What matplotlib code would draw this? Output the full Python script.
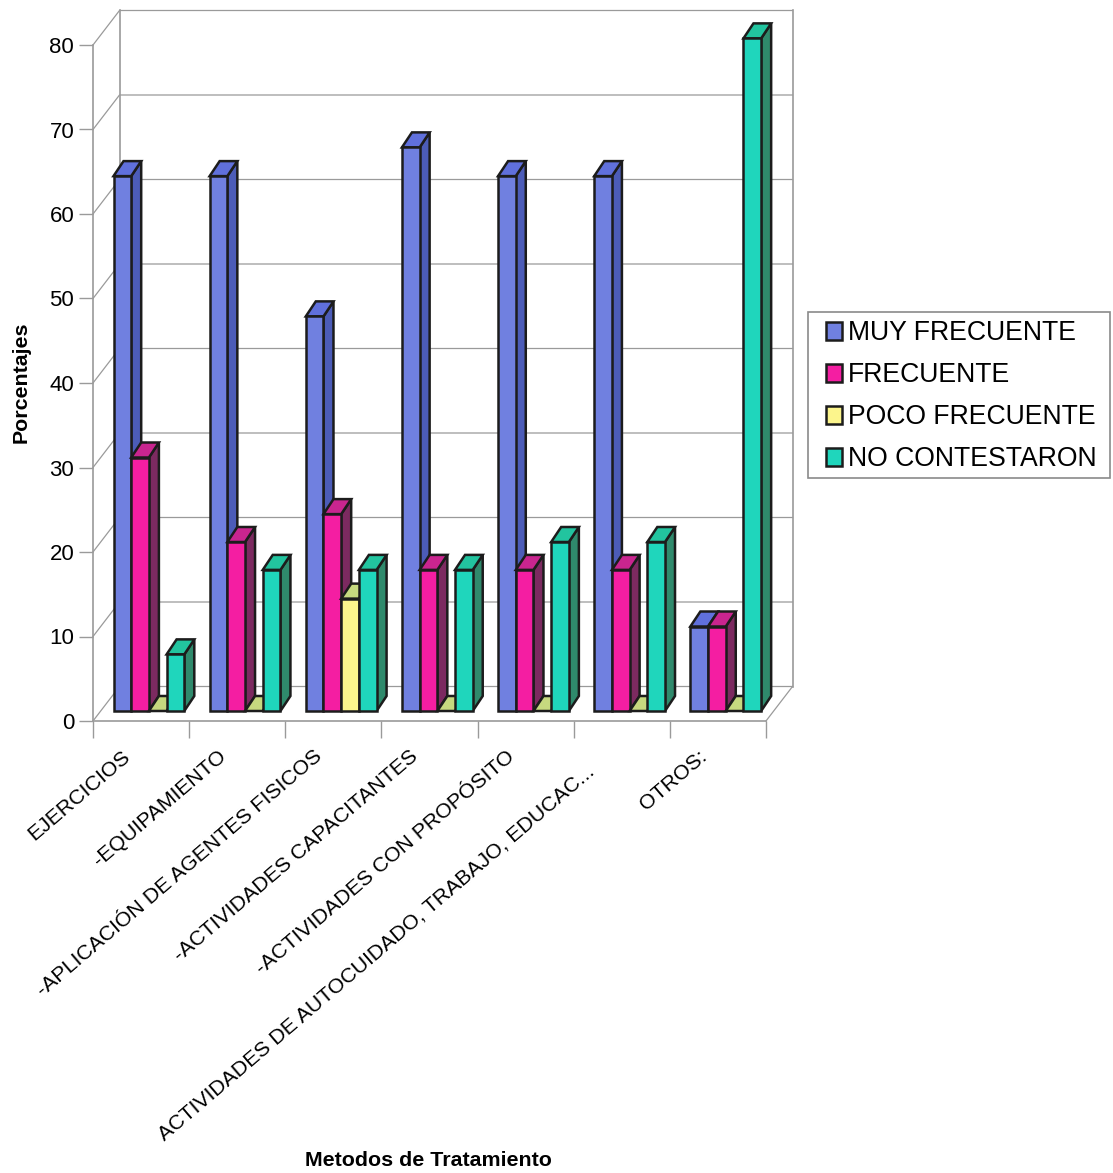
import numpy as np
import matplotlib
matplotlib.use('Agg')
import matplotlib.pyplot as plt
from matplotlib.patches import Patch, Rectangle
from matplotlib.transforms import ScaledTranslation

plt.rcParams['font.family'] = ['Liberation Sans', 'DejaVu Sans']

categories = ['EJERCICIOS', '-EQUIPAMIENTO', '-APLICACIÓN DE AGENTES FISICOS',
              '-ACTIVIDADES CAPACITANTES', '-ACTIVIDADES CON PROPÓSITO',
              'ACTIVIDADES DE AUTOCUIDADO, TRABAJO, EDUCAC...', 'OTROS:']
series = ['MUY FRECUENTE', 'FRECUENTE', 'POCO FRECUENTE', 'NO CONTESTARON']
muy_frecuente = [63.3, 63.3, 46.7, 66.7, 63.3, 63.3, 10]
frecuente = [30, 20, 23.3, 16.7, 16.7, 16.7, 10]
poco_frecuente = [0, 0, 13.3, 0, 0, 0, 0]
no_contestaron = [6.7, 16.7, 16.7, 16.7, 20, 20, 79.6]
yticks = [0, 10, 20, 30, 40, 50, 60, 70, 80]

values = [muy_frecuente, frecuente, poco_frecuente, no_contestaron]
front_colors = ['#7080e0', '#f41ea2', '#fcf58c', '#1fd6bc']
top_colors = ['#6070dc', '#c9258f', '#c6d97f', '#22c49f']
side_colors = ['#4c5cb8', '#7c2a60', '#9aa060', '#2f8a6c']
edge = '#1c1c1c'
wall = '#9a9a9a'

W, H = 1113, 1173
fig = plt.figure(figsize=(W / 100, H / 100), dpi=100)
# front plane of the fake 3d box, in pixels of the reference
left, right, y_zero, y_top = 93, 766, 721, 45
ax = fig.add_axes([left / W, 1 - y_zero / H, (right - left) / W, (y_zero - y_top) / H])
ax.set_xlim(0, 7)
ax.set_ylim(0, 80)

# pixel sizes turned into data units
px_x = 7 / (right - left)
px_y = 80 / (y_zero - y_top)
box_dx, box_dy = 26.5 * px_x, 34.5 * px_y
bar_dx, bar_dy = 10 * px_x, 15 * px_y
bar_w = 17.7 * px_x
bar_start = 20.5 * px_x
floor = 10 * px_y

# walls and floor
for v in yticks:
    ax.plot([0, box_dx, 7 + box_dx], [v, v + box_dy, v + box_dy], color=wall, lw=0.9,
            clip_on=False, zorder=1)
ax.plot([box_dx, box_dx], [box_dy, 80 + box_dy], color=wall, lw=1.2, clip_on=False, zorder=1)
ax.plot([7 + box_dx, 7 + box_dx], [box_dy, 80 + box_dy], color=wall, lw=1.2, clip_on=False, zorder=1)
ax.plot([7, 7 + box_dx], [0, box_dy], color=wall, lw=0.9, clip_on=False, zorder=1)

# bars go left to right so each front hides the side of the one before
z = 3
for i in range(len(categories)):
    for s in range(len(series)):
        v = values[s][i]
        x0 = i + bar_start + s * bar_w
        x1 = x0 + bar_w
        y0 = floor
        y1 = floor + v
        if v > 0:
            ax.fill([x1, x1 + bar_dx, x1 + bar_dx, x1], [y0, y0 + bar_dy, y1 + bar_dy, y1],
                    facecolor=side_colors[s], edgecolor=edge, lw=1.8, clip_on=False, zorder=z)
        ax.fill([x0, x1, x1 + bar_dx, x0 + bar_dx], [y1, y1, y1 + bar_dy, y1 + bar_dy],
                facecolor=top_colors[s], edgecolor=edge, lw=1.8, clip_on=False, zorder=z)
        if v > 0:
            ax.bar(x0, v, bar_w, bottom=floor, align='edge', color=front_colors[s],
                   edgecolor=edge, lw=1.8, clip_on=False, zorder=z + 1)
        z += 2

ax.set_yticks(yticks)
ax.set_xticks(np.arange(7) + 0.5)
ax.set_xticklabels(categories, rotation=40.5, ha='right', rotation_mode='anchor', fontsize=15.3)
ax.set_xticks(np.arange(8), minor=True)
ax.tick_params(axis='x', which='major', length=0, pad=18.5)
ax.tick_params(axis='x', which='minor', length=12.5, color=wall, width=1)
ax.tick_params(axis='y', length=10, color=wall, width=1, labelsize=16, pad=3.5)

# labels sit left of the category centre, the long one lower still
for i, label in enumerate(ax.get_xticklabels()):
    off_x, off_y = (-36, -15) if i == 5 else (-20, 0)
    shift = ScaledTranslation(off_x / 100, off_y / 100, fig.dpi_scale_trans)
    label.set_transform(label.get_transform() + shift)

for name in ['top', 'right']:
    ax.spines[name].set_visible(False)
ax.spines['left'].set_color(wall)
ax.spines['bottom'].set_color(wall)
ax.spines['left'].set_linewidth(1.2)
ax.spines['bottom'].set_linewidth(1.2)
ax.patch.set_alpha(0)

ax.set_xlabel('Metodos de Tratamiento', fontweight='bold', fontsize=15.4, va='center')
ax.xaxis.set_label_coords((428 - left) / (right - left), (y_zero - 1160) / (y_zero - y_top))
ax.set_ylabel('Porcentajes', fontweight='bold', fontsize=15.4, va='center')
ax.yaxis.set_label_coords((21 - left) / (right - left), (y_zero - 382) / (y_zero - y_top))

# legend frame is wider than the legend's own padding allows, so it is drawn apart
fig.add_artist(Rectangle((808 / W, 1 - 478 / H), 302 / W, 166 / H, transform=fig.transFigure,
                         facecolor='white', edgecolor='#8a8a8a', lw=1.2, zorder=-1))
handles = [Patch(facecolor=front_colors[s], edgecolor=edge, lw=1.8, label=series[s])
           for s in range(len(series))]
leg = ax.legend(handles=handles, loc='center', fontsize=19.2, frameon=False,
                handlelength=0.62, handleheight=0.62, handletextpad=0.2,
                labelspacing=0.6, borderpad=0, borderaxespad=0,
                bbox_to_anchor=(961 / W, 1 - 396.5 / H), bbox_transform=fig.transFigure)
leg.set_zorder(20)

fig.savefig('out.png', dpi=100, facecolor='white')
